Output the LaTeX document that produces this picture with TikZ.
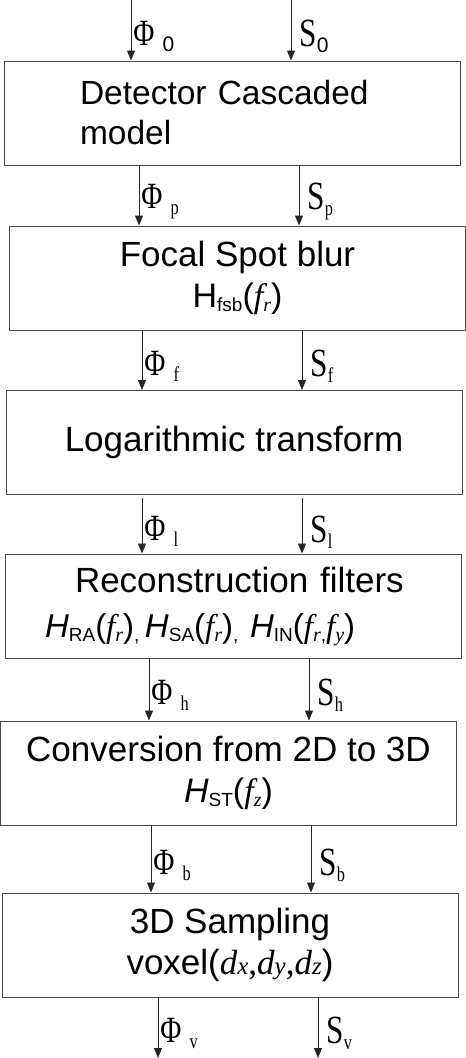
\documentclass[tikz,border=0pt]{standalone}
\usepackage{fontspec}
\setmainfont{Liberation Sans}
\newfontfamily\lblfont[FakeStretch=0.78]{Liberation Serif}
\newfontfamily\varfont{Liberation Serif}
\usetikzlibrary{arrows.meta}

% small lowered text for subscripts in the boxes
\newcommand{\lo}[1]{\raisebox{-4pt}{\fontsize{19}{19}\selectfont #1}}
\newcommand{\vr}[1]{{\varfont\itshape #1}}
\newcommand{\vsub}[1]{\raisebox{-4pt}{\fontsize{20}{20}\selectfont\varfont\itshape #1}}
% labels of the two signal lines
\newcommand{\phitxt}[1]{{\lblfont\fontsize{37}{37}\selectfont Φ\hspace{8pt}\raisebox{-6pt}{\fontsize{21}{21}\selectfont #1}}}
\newcommand{\stxt}[1]{{\lblfont\fontsize{40}{40}\selectfont S\raisebox{-6pt}{\fontsize{21}{21}\selectfont #1}}}

\begin{document}
\begin{tikzpicture}[x=1pt, y=1pt, >={Triangle[length=10pt,width=8pt]}, auto]
    \tikzstyle{block} = [draw=black!70, line width=1pt, rectangle, minimum width=456pt, minimum height=104pt, inner sep=0pt, font=\fontsize{35}{41}\selectfont]
    \tikzstyle{flow} = [->, draw=black!85, line width=0.9pt]
    \tikzstyle{philabel} = [inner sep=2pt, yshift=-6pt]
    \tikzstyle{slabel} = [inner sep=2pt, xshift=6pt, yshift=-6pt]

    \useasboundingbox (0,0) rectangle (466,-1058);

    \node [block, font=\fontsize{33.5}{40}\selectfont, text width=304pt, align=left] (detector) at (232,-113) {Detector Cascaded\\model};
    \node [block, align=center] (focal) at (237.5,-278) {Focal Spot blur\\{\fontsize{34}{41}\selectfont H\lo{fsb}(\vr{f}\vsub{r})}};
    \node [block] (logtr) at (234,-442.5) {Logarithmic transform};
    \node [block, text width=377pt, align=left] (recon) at (233.5,-606) {\hspace*{30pt}Reconstruction filters\\[4pt]{\fontsize{33}{41}\selectfont \textit{H}\lo{RA}(\vr{f}\vsub{r})\lo{,}\,\textit{H}\lo{SA}(\vr{f}\vsub{r})\lo{,} \textit{H}\lo{IN}(\vr{f}\vsub{r}\lo{,}\vr{f}\vsub{y})}};
    \node [block, align=center] (conv) at (228.5,-773) {Conversion from 2D to 3D\\{\fontsize{34}{41}\selectfont \textit{H}\lo{ST}(\vr{f}\vsub{z})}};
    \node [block, align=center] (sampling) at (230,-945) {3D Sampling\\voxel(\vr{d}{\fontsize{25}{25}\selectfont\vr{x}}{\varfont,}\vr{d}{\fontsize{25}{25}\selectfont\vr{y}}{\varfont,}\vr{d}{\fontsize{25}{25}\selectfont\vr{z}})};

    \coordinate (inphi) at (131,0);
    \coordinate (ins) at (291,0);
    \coordinate (outphi) at (158,-1058);
    \coordinate (outs) at (318,-1058);

    \draw [flow] (inphi) -- node [philabel] {\phitxt{\normalfont 0}} (detector.north -| inphi);
    \draw [flow] (ins) -- node [slabel] {\stxt{\normalfont 0}} (detector.north -| ins);
    \draw [flow] (detector.south -| 139,0) -- node [philabel] {\phitxt{p}} (focal.north -| 139,0);
    \draw [flow] (detector.south -| 299,0) -- node [slabel] {\stxt{p}} (focal.north -| 299,0);
    \draw [flow] (focal.south -| 142,0) -- node [philabel] {\phitxt{f}} (logtr.north -| 142,0);
    \draw [flow] (focal.south -| 302,0) -- node [slabel] {\stxt{f}} (logtr.north -| 302,0);
    \draw [flow] ([yshift=-3pt]logtr.south -| 142,0) -- node [philabel] {\phitxt{l}} (recon.north -| 142,0);
    \draw [flow] ([yshift=-3pt]logtr.south -| 302,0) -- node [slabel] {\stxt{l}} (recon.north -| 302,0);
    \draw [flow] (recon.south -| 149,0) -- node [philabel] {\phitxt{h}} (conv.north -| 149,0);
    \draw [flow] (recon.south -| 309,0) -- node [slabel] {\stxt{h}} (conv.north -| 309,0);
    \draw [flow] (conv.south -| 151,0) -- node [philabel] {\phitxt{b}} (sampling.north -| 151,0);
    \draw [flow] (conv.south -| 311,0) -- node [slabel] {\stxt{b}} (sampling.north -| 311,0);
    \draw [flow] (sampling.south -| outphi) -- node [philabel] {\phitxt{v}} (outphi);
    \draw [flow] (sampling.south -| outs) -- node [slabel] {\stxt{v}} (outs);
\end{tikzpicture}
\end{document}
